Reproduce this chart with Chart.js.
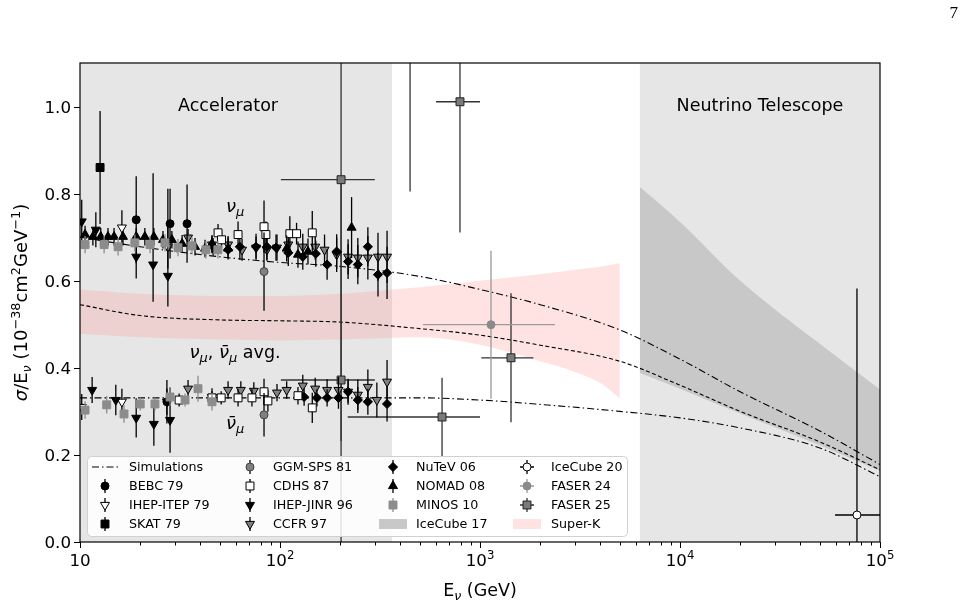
<!DOCTYPE html>
<html>
<head>
<meta charset="utf-8">
<script src="https://cdn.jsdelivr.net/npm/chart.js@4.4.0/dist/chart.umd.min.js"></script>
<style>
  body { margin: 0; background: #fff; }
  #wrap { width: 966px; height: 607px; }
</style>
</head>
<body>
<div id="wrap"><canvas id="myChart" width="966" height="607"></canvas></div>
<script>
// rows: [E (GeV), sigma/E (1e-38 cm2/GeV), err (or [down, up]), Elo, Ehi]
const bebc = [[19.1, 0.740, 0.10], [28.2, 0.731, 0.08], [34.3, 0.731, 0.09], [27.2, 0.322, 0.05]];
const ihepItep = [[16.2, 0.722, 0.04], [27.5, 0.678, 0.05], [10.2, 0.310, 0.03], [16.2, 0.322, 0.03], [27.2, 0.322, 0.03]];
const skat = [[12.6, 0.86, 0.13]];
const ggm = [[83.2, 0.621, 0.09], [83.2, 0.292, 0.05]];
const cdhs = [[49, 0.710, 0.02], [51, 0.694, 0.02], [61.7, 0.706, 0.03], [83.2, 0.724, 0.06], [85, 0.706, 0.03],
  [112, 0.708, 0.04], [121, 0.708, 0.025], [145, 0.710, 0.05], [31.3, 0.326, 0.015], [45.7, 0.331, 0.015],
  [50.8, 0.331, 0.015], [61.7, 0.331, 0.02], [72.4, 0.331, 0.02], [83.2, 0.345, 0.03], [87, 0.324, 0.025],
  [123, 0.336, 0.02], [145, 0.308, 0.035]];
const ihepJinr = [[10.2, 0.736, 0.05], [12.0, 0.717, 0.04], [19.1, 0.655, 0.05], [23.2, 0.637, [0.085, 0.21]],
  [27.5, 0.611, [0.07, 0.2]], [11.5, 0.349, 0.03], [15.1, 0.326, 0.035], [19.1, 0.285, 0.045],
  [23.4, 0.271, 0.05], [28.2, 0.280, 0.075]];
const ccfr = [[34.7, 0.699, 0.02], [45.7, 0.683, 0.02], [55, 0.683, 0.02], [64.6, 0.671, 0.025], [75.9, 0.676, 0.025],
  [86, 0.671, 0.025], [96.6, 0.676, 0.03], [110, 0.683, 0.03], [130, 0.678, 0.03], [150, 0.678, 0.03],
  [167, 0.671, 0.035], [192, 0.660, 0.04], [219, 0.655, 0.04], [245, 0.653, 0.045], [275, 0.653, 0.05],
  [309, 0.655, 0.055], [343, 0.655, 0.06],
  [34.7, 0.352, 0.02], [45.7, 0.333, 0.02], [55, 0.349, 0.02], [63.7, 0.349, 0.02], [74, 0.347, 0.02],
  [96.6, 0.343, 0.02], [108, 0.349, 0.02], [130, 0.359, 0.025], [150, 0.352, 0.025], [172, 0.349, 0.025],
  [196, 0.349, 0.03], [219, 0.345, 0.03], [245, 0.338, 0.035], [275, 0.356, 0.04], [305, 0.326, 0.04],
  [343, 0.368, 0.05]];
const nutev = [[46.3, 0.678, 0.02], [55, 0.671, 0.02], [63, 0.678, 0.03], [75.9, 0.678, 0.03], [86, 0.678, 0.03],
  [95.5, 0.676, 0.03], [110, 0.664, 0.03], [130, 0.655, 0.03], [151, 0.662, 0.03], [172, 0.637, 0.035],
  [192, 0.667, 0.04], [219, 0.644, 0.04], [245, 0.637, 0.045], [275, 0.678, 0.045], [309, 0.614, 0.05],
  [343, 0.618, 0.06],
  [132, 0.333, 0.02], [153, 0.331, 0.02], [172, 0.331, 0.02], [196, 0.331, 0.025], [219, 0.345, 0.025],
  [245, 0.326, 0.03], [275, 0.322, 0.03], [343, 0.317, 0.04]];
const nomad = [[10.6, 0.706, 0.02], [11.6, 0.701, 0.02], [12.7, 0.701, 0.02], [13.8, 0.701, 0.02], [14.8, 0.701, 0.02],
  [16.4, 0.701, 0.02], [19.1, 0.701, 0.02], [21.1, 0.701, 0.02], [23.4, 0.701, 0.02], [26, 0.694, 0.02],
  [28.8, 0.694, 0.02], [32.4, 0.685, 0.02], [37.6, 0.678, 0.02], [42.2, 0.674, 0.02], [45.7, 0.685, 0.02],
  [55, 0.674, 0.025], [108, 0.674, 0.03], [123, 0.660, 0.03], [138, 0.667, 0.03], [228, 0.722, 0.07]];
const minos = [[10.6, 0.683, 0.02], [13.2, 0.683, 0.02], [15.5, 0.678, 0.02], [18.8, 0.687, 0.02], [22.4, 0.683, 0.02],
  [26.6, 0.687, 0.02], [30.9, 0.676, 0.02], [36.3, 0.680, 0.02], [42.6, 0.671, 0.02], [48.9, 0.671, 0.02],
  [10.6, 0.303, 0.02], [13.6, 0.315, 0.02], [16.6, 0.294, 0.02], [20, 0.317, 0.015], [23.7, 0.317, 0.015],
  [28.2, 0.333, 0.02], [33.5, 0.326, 0.015], [38.9, 0.352, 0.03], [45.7, 0.322, 0.02]];
const icecube20 = [[76700, 0.062, [0.1, 0.52], 59600, 100000]];
const faser24 = [[1135, 0.499, 0.17, 519, 2371]];
const faser25 = [[794, 1.011, 0.3, 603, 1000], [202, 0.832, 0.6, 101, 298], [202, 0.372, 0.45, 101, 298],
  [1429, 0.423, 0.148, 1015, 1850], [646, 0.287, 0.09, 218, 1000], [447, 1.3, 0.495]];

// simulation curves
const simE = [10, 20, 50, 100, 200, 500, 1000, 2000, 5000, 10000, 20000, 50000, 100000];
const simNu = [0.70, 0.678, 0.655, 0.642, 0.633, 0.61, 0.58, 0.545, 0.487, 0.42, 0.345, 0.255, 0.178];
const simAvg = [0.545, 0.52, 0.51, 0.508, 0.505, 0.49, 0.475, 0.452, 0.415, 0.36, 0.30, 0.23, 0.166];
const simNubar = [0.331, 0.331, 0.331, 0.331, 0.331, 0.331, 0.326, 0.316, 0.30, 0.285, 0.262, 0.216, 0.15];

// bands
const skE = [10, 20, 50, 100, 200, 500, 1000, 2000, 3000, 4000, 5000];
const skHi = [0.58, 0.57, 0.565, 0.565, 0.57, 0.585, 0.60, 0.615, 0.625, 0.632, 0.64];
const skLo = [0.478, 0.47, 0.465, 0.463, 0.465, 0.47, 0.453, 0.415, 0.39, 0.365, 0.33];
const icE = [6300, 10000, 20000, 50000, 100000];
const icHi = [0.815, 0.735, 0.60, 0.455, 0.35];
const icLo = [0.388, 0.352, 0.295, 0.222, 0.163];

// regions and axes
const accelMax = 363;
const telescopeMin = 6300;
const yTicks = [0, 0.2, 0.4, 0.6, 0.8, 1.0];
const xMajor = [10, 100, 1000, 10000, 100000];
const xMajorExp = ['', '2', '3', '4', '5'];
const legendOrder = ['Simulations', 'BEBC 79', 'IHEP-ITEP 79', 'SKAT 79', 'GGM-SPS 81', 'CDHS 87', 'IHEP-JINR 96', 'CCFR 97',
  'NuTeV 06', 'NOMAD 08', 'MINOS 10', 'IceCube 17', 'IceCube 20', 'FASER 24', 'FASER 25', 'Super-K'];

const F = (s, it) => (it ? 'italic ' : '') + s + 'px "DejaVu Sans"';

function pts(label, rows, st) {
  return {
    type: 'scatter', label: label, rows: rows,
    data: rows.map(r => ({ x: r[0], y: r[1] })),
    pointStyle: st.shape, pointRotation: st.rot || 0, pointRadius: st.r,
    pointHoverRadius: st.r,
    pointBackgroundColor: st.fill, pointBorderColor: st.edge || st.fill,
    pointBorderWidth: st.bw === undefined ? 1 : st.bw,
    errColor: st.err || '#000', cross: !!st.cross, clip: 0, order: 1
  };
}

function curve(label, ys, dash) {
  return {
    type: 'line', label: label, data: simE.map((e, i) => ({ x: e, y: ys[i] })),
    borderColor: '#000', borderWidth: 1.1, borderDash: dash, pointRadius: 0,
    fill: false, cubicInterpolationMode: 'monotone', clip: 0, order: 3
  };
}

function band(label, es, hi, lo, color) {
  return [
    { type: 'line', label: label, data: es.map((e, i) => ({ x: e, y: hi[i] })), borderWidth: 0,
      borderColor: 'rgba(0,0,0,0)', backgroundColor: color, pointRadius: 0, fill: '+1',
      cubicInterpolationMode: 'monotone', clip: 0, order: 5, isBand: true },
    { type: 'line', label: label + ' low', data: es.map((e, i) => ({ x: e, y: lo[i] })), borderWidth: 0,
      borderColor: 'rgba(0,0,0,0)', pointRadius: 0, fill: false,
      cubicInterpolationMode: 'monotone', clip: 0, order: 5 }
  ];
}

const dashDot = [7, 3, 1.5, 3];

const datasets = [
  ...band('Super-K', skE, skHi, skLo, 'rgba(255,150,150,0.28)'),
  ...band('IceCube 17', icE, icHi, icLo, '#c8c8c8'),
  curve('Simulations', simNu, dashDot),
  curve('avg', simAvg, [4, 2.5]),
  curve('nubar', simNubar, dashDot),
  pts('MINOS 10', minos, { shape: 'rect', r: 5.6, fill: '#8c8c8c', err: '#8c8c8c' }),
  pts('GGM-SPS 81', ggm, { shape: 'circle', r: 4, fill: '#808080', edge: '#444' }),
  pts('IHEP-JINR 96', ihepJinr, { shape: 'triangle', rot: 180, r: 5.2, fill: '#000' }),
  pts('BEBC 79', bebc, { shape: 'circle', r: 4, fill: '#000' }),
  pts('IHEP-ITEP 79', ihepItep, { shape: 'triangle', rot: 180, r: 5.2, fill: '#fff', edge: '#000' }),
  pts('SKAT 79', skat, { shape: 'rect', r: 5.6, fill: '#000' }),
  pts('NOMAD 08', nomad, { shape: 'triangle', r: 5.2, fill: '#000' }),
  pts('CDHS 87', cdhs, { shape: 'rect', r: 5.6, fill: '#fff', edge: '#000' }),
  pts('NuTeV 06', nutev, { shape: 'rectRot', r: 4.6, fill: '#000' }),
  pts('CCFR 97', ccfr, { shape: 'triangle', rot: 180, r: 5.2, fill: '#808080', edge: '#000' }),
  pts('IceCube 20', icecube20, { shape: 'circle', r: 4, fill: '#fff', edge: '#000', cross: true }),
  pts('FASER 24', faser24, { shape: 'circle', r: 4, fill: '#8a8a8a', err: '#9a9a9a', cross: true }),
  pts('FASER 25', faser25, { shape: 'rect', r: 5.6, fill: '#7a7a7a', edge: '#222', err: '#333', cross: true })
];

function rich(ctx, parts, x, y, align) {
  let w = 0;
  for (const p of parts) { ctx.font = p.f; w += ctx.measureText(p.t).width; }
  let cx = align === 'center' ? x - w / 2 : align === 'right' ? x - w : x;
  for (const p of parts) {
    ctx.font = p.f;
    ctx.fillText(p.t, cx, y + (p.dy || 0));
    cx += ctx.measureText(p.t).width;
  }
}

function marker(ctx, ds, x, y) {
  ctx.fillStyle = ds.pointBackgroundColor;
  ctx.strokeStyle = ds.pointBorderColor;
  ctx.lineWidth = ds.pointBorderWidth;
  Chart.helpers.drawPoint(ctx, {
    pointStyle: ds.pointStyle, rotation: ds.pointRotation, radius: ds.pointRadius,
    borderWidth: ds.pointBorderWidth
  }, x, y);
}

const decor = {
  id: 'decor',
  beforeDatasetsDraw(chart) {
    const { ctx, chartArea: a, scales: { x, y } } = chart;
    ctx.save();
    ctx.fillStyle = '#e6e6e6';
    const xa = x.getPixelForValue(accelMax);
    const xt = x.getPixelForValue(telescopeMin);
    ctx.fillRect(a.left, a.top, xa - a.left, a.bottom - a.top);
    ctx.fillRect(xt, a.top, a.right - xt, a.bottom - a.top);
    ctx.fillStyle = '#000';
    ctx.font = F(17.5);
    ctx.textAlign = 'center';
    ctx.textBaseline = 'middle';
    ctx.fillText('Accelerator', x.getPixelForValue(55), y.getPixelForValue(1.0));
    ctx.fillText('Neutrino Telescope', x.getPixelForValue(25100), y.getPixelForValue(1.0));
    ctx.restore();
  },
  beforeDatasetDraw(chart, args) {
    const ds = chart.data.datasets[args.index];
    if (!ds.rows) return;
    const { ctx, chartArea: a, scales: { x, y } } = chart;
    ctx.save();
    ctx.beginPath();
    ctx.rect(a.left, a.top, a.right - a.left, a.bottom - a.top);
    ctx.clip();
    ctx.strokeStyle = ds.errColor;
    ctx.lineWidth = 1.3;
    for (const r of ds.rows) {
      const dn = Array.isArray(r[2]) ? r[2][0] : r[2];
      const up = Array.isArray(r[2]) ? r[2][1] : r[2];
      const px = x.getPixelForValue(r[0]);
      ctx.beginPath();
      ctx.moveTo(px, y.getPixelForValue(r[1] - dn));
      ctx.lineTo(px, y.getPixelForValue(r[1] + up));
      if (r.length > 3) {
        const py = y.getPixelForValue(r[1]);
        ctx.moveTo(x.getPixelForValue(r[3]), py);
        ctx.lineTo(x.getPixelForValue(r[4]), py);
      }
      ctx.stroke();
    }
    ctx.restore();
  },
  afterDatasetsDraw(chart) {
    const { ctx, chartArea: a, scales: { x, y } } = chart;
    ctx.save();
    ctx.fillStyle = '#000';
    ctx.textBaseline = 'alphabetic';
    const ex = x.getPixelForValue(59.6);
    const nu = { t: 'ν', f: F(18, 1) }, mu = { t: 'μ', f: F(13, 1), dy: 4 };
    const nub = { t: 'ν\u0304', f: F(18, 1) };
    rich(ctx, [nu, mu], ex, y.getPixelForValue(0.77) + 5, 'center');
    rich(ctx, [nu, mu, { t: ', ', f: F(17.5) }, nub, mu, { t: ' avg.', f: F(17.5) }], ex, y.getPixelForValue(0.437) + 6, 'center');
    rich(ctx, [nub, mu], ex, y.getPixelForValue(0.27) + 5, 'center');

    // frame
    ctx.strokeStyle = '#000';
    ctx.lineWidth = 1.2;
    ctx.strokeRect(a.left, a.top, a.right - a.left, a.bottom - a.top);

    // y ticks
    ctx.lineWidth = 1;
    ctx.font = F(16.7);
    ctx.textAlign = 'right';
    ctx.textBaseline = 'middle';
    for (const v of yTicks) {
      const py = Math.round(y.getPixelForValue(v)) + 0.5;
      ctx.beginPath(); ctx.moveTo(a.left - 6, py); ctx.lineTo(a.left, py); ctx.stroke();
      ctx.fillText(v.toFixed(1), a.left - 9, py + 1);
    }
    // x ticks (log minor)
    for (let d = 10; d <= 100000; d *= 10) {
      for (let m = 1; m <= 9; m++) {
        const v = d * m;
        if (v > 100000) break;
        const px = Math.round(x.getPixelForValue(v)) + 0.5;
        ctx.beginPath(); ctx.moveTo(px, a.bottom); ctx.lineTo(px, a.bottom + (m === 1 ? 6 : 3.5)); ctx.stroke();
      }
    }
    ctx.textAlign = 'left';
    ctx.textBaseline = 'alphabetic';
    xMajor.forEach((v, i) => {
      const parts = [{ t: '10', f: F(16.7) }];
      if (xMajorExp[i]) parts.push({ t: xMajorExp[i], f: F(11.7), dy: -7 });
      rich(ctx, parts, x.getPixelForValue(v), a.bottom + 24, 'center');
    });

    // axis titles
    rich(ctx, [{ t: 'E', f: F(17.5) }, { t: 'ν', f: F(12.5, 1), dy: 4 }, { t: ' (GeV)', f: F(17.5) }],
      (a.left + a.right) / 2, 596, 'center');
    ctx.save();
    ctx.translate(27, (a.top + a.bottom) / 2);
    ctx.rotate(-Math.PI / 2);
    rich(ctx, [{ t: 'σ', f: F(18, 1) }, { t: '/E', f: F(18) }, { t: 'ν', f: F(12.8, 1), dy: 4 },
      { t: ' (10', f: F(18) }, { t: '−38', f: F(12.8), dy: -7 }, { t: 'cm', f: F(18) },
      { t: '2', f: F(12.8), dy: -7 }, { t: 'GeV', f: F(18) }, { t: '−1', f: F(12.8), dy: -7 },
      { t: ')', f: F(18) }], 0, 0, 'center');
    ctx.restore();

    // page number
    ctx.font = '17px "Liberation Serif"';
    ctx.textAlign = 'right';
    ctx.fillText('7', 958, 18);
    ctx.restore();
  },
  afterDraw(chart) {
    const { ctx } = chart;
    const byLabel = {};
    chart.data.datasets.forEach(d => { if (!byLabel[d.label]) byLabel[d.label] = d; });
    ctx.save();
    ctx.beginPath();
    ctx.roundRect(87.5, 456.5, 540, 80, 4);
    ctx.fillStyle = 'rgba(255,255,255,0.85)';
    ctx.fill();
    ctx.strokeStyle = '#d0d0d0';
    ctx.lineWidth = 1;
    ctx.stroke();
    const mx = [105, 250, 393, 527], tx = [129, 273, 416, 551], ry = [467, 486, 505, 524];
    ctx.font = F(12.7);
    ctx.textBaseline = 'middle';
    legendOrder.forEach((lbl, i) => {
      const c = Math.floor(i / 4), r = i % 4;
      const ds = byLabel[lbl];
      const cx = mx[c], cy = ry[r];
      if (lbl === 'Simulations') {
        ctx.strokeStyle = '#000'; ctx.lineWidth = 1.1; ctx.setLineDash(dashDot);
        ctx.beginPath(); ctx.moveTo(cx - 13, cy); ctx.lineTo(cx + 13, cy); ctx.stroke();
        ctx.setLineDash([]);
      } else if (ds.isBand) {
        ctx.fillStyle = ds.backgroundColor;
        ctx.fillRect(cx - 14, cy - 5, 28, 10);
      } else {
        ctx.strokeStyle = ds.errColor; ctx.lineWidth = 1.3;
        ctx.beginPath(); ctx.moveTo(cx, cy - 7); ctx.lineTo(cx, cy + 7);
        if (ds.cross) { ctx.moveTo(cx - 7, cy); ctx.lineTo(cx + 7, cy); }
        ctx.stroke();
        marker(ctx, ds, cx, cy);
      }
      ctx.fillStyle = '#000';
      ctx.textAlign = 'left';
      ctx.fillText(lbl, tx[c], cy + 1);
    });
    ctx.restore();
  }
};

const ctx = document.getElementById('myChart');
const chart = new Chart(ctx, {
  data: { datasets: datasets },
  options: {
    responsive: false,
    animation: false,
    events: [],
    devicePixelRatio: 1,
    layout: { padding: { left: 80, top: 63, right: 86, bottom: 65 } },
    plugins: { legend: { display: false }, tooltip: { enabled: false } },
    scales: {
      x: { type: 'logarithmic', min: 10, max: 100000, display: false },
      y: { type: 'linear', min: 0, max: 1.1, display: false }
    }
  },
  plugins: [decor]
});
</script>
</body>
</html>
